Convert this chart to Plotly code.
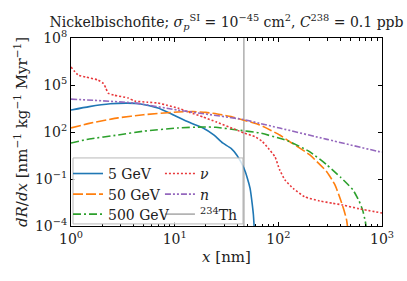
import numpy as np
import plotly.graph_objects as go

# ---- data (x in nm, log10 of dR/dx) ----
x_5gev = [1, 1.5, 2.4, 3.5, 4.7, 6.9, 9, 10.7, 14, 18.8, 24, 29, 35, 40, 46.5, 50, 53.4, 56, 57.5, 58.6]
logy_5gev = [3.4, 3.62, 3.8, 3.84, 3.79, 3.53, 3.2, 2.96, 2.6, 2.26, 1.8, 1.3, 0.95, 0.5, -0.3, -0.9, -1.6, -2.6, -3.3, -4.2]

x_50gev = [1, 1.5, 2.84, 5, 10.7, 15, 20, 27.4, 35, 45.6, 66, 85, 103, 124, 200, 294, 350, 390, 430, 455, 470]
logy_50gev = [2.26, 2.55, 2.9, 3.1, 3.28, 3.3, 3.25, 3.12, 2.98, 2.77, 2.45, 2.1, 1.81, 1.45, 0.55, -0.55, -1.35, -2.15, -3.0, -3.6, -4.3]

x_500gev = [1, 1.5, 2.84, 5, 10.7, 18.8, 25, 40, 66, 103, 124, 200, 294, 400, 525, 600, 650, 690, 715]
logy_500gev = [1.3, 1.55, 1.81, 2.05, 2.26, 2.32, 2.3, 2.13, 1.94, 1.6, 1.43, 0.75, -0.1, -0.9, -1.7, -2.4, -2.98, -3.7, -4.4]

x_nu = [1, 1.17, 1.4, 1.82, 2.05, 2.17, 2.27, 2.6, 3.55, 4.1, 5.5, 6.9, 8.5, 10.7, 14, 18.8, 25,
        38.2, 46.5, 59.5, 70, 80, 92.7, 103, 116, 139, 179, 250, 335, 420, 600, 1000]
logy_nu = [6.15, 5.64, 5.5, 5.32, 5.1, 4.8, 4.49, 4.35, 4.17, 3.98, 3.9, 3.85, 3.7, 3.53, 3.25, 2.96, 2.65,
           2.17, 1.94, 1.7, 1.4, 0.96, 0.43, -0.42, -1.06, -1.6, -2.13, -2.4, -2.55, -2.66, -2.9, -3.17]

x_n = [1, 4.1, 10.7, 45.6, 66, 103, 295, 950, 1000]
logy_n = [4.1, 3.85, 3.4, 2.8, 2.55, 2.25, 1.53, 0.74, 0.72]

x_th234 = [46.5, 46.5]
y_th234 = [1e-4, 1e8]

xtick_vals = [1, 10, 100, 1000]
xtick_text = ["10<sup>0</sup>", "10<sup>1</sup>", "10<sup>2</sup>", "10<sup>3</sup>"]
ytick_vals = [1e-4, 1e-1, 1e2, 1e5, 1e8]
ytick_text = ["10<sup>−4</sup>", "10<sup>−1</sup>", "10<sup>2</sup>", "10<sup>5</sup>", "10<sup>8</sup>"]

FONT = "DejaVu Serif"
TXT = "#222222"
FS = 14

fig = go.Figure()

def add(x, y, name, color, dash, legend, shape="spline"):
    fig.add_trace(go.Scatter(
        x=x, y=y, mode="lines", name=name, legend=legend,
        line=dict(color=color, width=1.6, dash=dash, shape=shape, smoothing=0.5)))

# vertical line (drawn beneath)
add(x_th234, y_th234, "<sup>234</sup>Th", "#b3b3b3", "solid", "legend6", shape="linear")
add(x_5gev, 10 ** np.array(logy_5gev), "5 GeV", "#1f77b4", "solid", "legend")
add(x_50gev, 10 ** np.array(logy_50gev), "50 GeV", "#ff7f0e", "10px,3px", "legend2")
add(x_500gev, 10 ** np.array(logy_500gev), "500 GeV", "#2ca02c", "8px,3px,2px,3px", "legend3")
add(x_nu, 10 ** np.array(logy_nu), "<i>ν</i>", "#e8383b", "2px,2px", "legend4")
add(x_n, 10 ** np.array(logy_n), "<i>n</i>", "#9467bd", "6px,2px,2px,2px,2px,2px", "legend5")

axis_common = dict(
    showline=True, linecolor="black", linewidth=1, mirror="ticks",
    ticks="inside", ticklen=4, tickwidth=1, tickcolor="black",
    showgrid=False, zeroline=False, automargin=False,
    tickfont=dict(family=FONT, size=FS, color=TXT),
)

fig.update_xaxes(type="log", range=[0, 3], tickmode="array", tickvals=xtick_vals, ticktext=xtick_text,
                 minor=dict(ticks="inside", ticklen=2.5, tickcolor="black", dtick="D1", showgrid=False),
                 title=dict(text="<i>x</i> [nm]", font=dict(family=FONT, size=15, color=TXT), standoff=5),
                 **axis_common)
fig.update_yaxes(type="log", range=[-4, 8], tickmode="array", tickvals=ytick_vals, ticktext=ytick_text,
                 title=dict(text="<i>dR</i>/<i>dx</i> [nm<sup>−1</sup> kg<sup>−1</sup> Myr<sup>−1</sup>]",
                            font=dict(family=FONT, size=15, color=TXT), standoff=3),
                 **axis_common)

def leg(x, y):
    return dict(x=x, y=y, orientation="v", yanchor="middle", xanchor="left",
                bgcolor="rgba(0,0,0,0)", borderwidth=0, tracegroupgap=0, itemwidth=30,
                font=dict(family=FONT, size=FS, color=TXT))

c1, c2 = -0.0096, 0.286
r1, r2, r3 = 0.277, 0.1675, 0.061

fig.update_layout(
    width=407, height=281,
    margin=dict(l=71, r=25, t=38, b=55, autoexpand=False),
    paper_bgcolor="white", plot_bgcolor="white",
    font=dict(family=FONT, size=FS, color=TXT),
    title=dict(text="Nickelbischofite; <i>σ</i><sub><i>p</i></sub><sup>SI</sup> = 10<sup>−45</sup> cm<sup>2</sup>, <i>C</i><sup>238</sup> = 0.1 ppb",
               xref="paper", x=0.5, xanchor="center", y=0.922, yanchor="middle", automargin=False,
               font=dict(family=FONT, size=14, color=TXT)),
    legend=leg(c1, r1), legend2=leg(c1, r2), legend3=leg(c1, r3),
    legend4=leg(c2, r1), legend5=leg(c2, r2), legend6=leg(c2, r3),
    shapes=[dict(type="rect", xref="paper", yref="paper", x0=0.0065, x1=0.553, y0=0.011, y1=0.362,
                 fillcolor="rgba(255,255,255,0.8)", line=dict(color="#b8b8b8", width=1), layer="above")],
    showlegend=True,
)

fig.write_html("out.html", config={"displayModeBar": False},
               post_script="document.body.style.margin='0';document.body.style.padding='0';document.body.style.overflow='hidden';")
